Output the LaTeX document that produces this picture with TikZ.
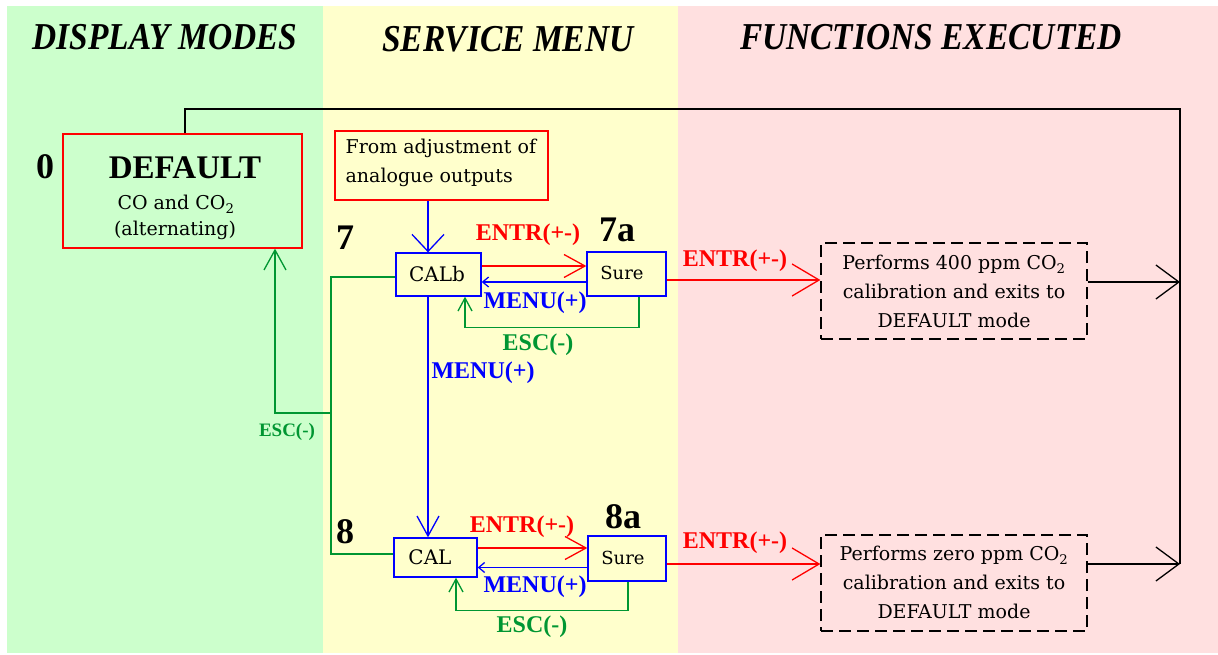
\documentclass[tikz,border=0pt]{standalone}
\usepackage{fontspec}
\setmainfont{Liberation Serif}
\newfontfamily\dvs{DejaVu Serif}
\usetikzlibrary{arrows.meta,calc}
\definecolor{bggreen}{RGB}{204,255,204}
\definecolor{bgyellow}{RGB}{255,255,204}
\definecolor{bgpink}{RGB}{255,224,224}
\definecolor{lred}{RGB}{255,0,0}
\definecolor{lblue}{RGB}{0,0,255}
\definecolor{lgreen}{RGB}{0,150,50}
\begin{document}
\begin{tikzpicture}[x=1pt,y=-1pt,line width=1.3pt,
  box/.style={draw,inner sep=0pt,fill=none},
  txt/.style={font=\dvs\fontsize{19}{29}\selectfont,inner sep=0pt},
  lbl/.style={font=\fontsize{24}{26}\selectfont\bfseries,inner sep=0pt},
  slbl/.style={font=\fontsize{19}{20}\selectfont\bfseries,inner sep=0pt},
  num/.style={font=\fontsize{36}{38}\selectfont\bfseries,inner sep=0pt},
  head/.style={font=\fontsize{38}{42}\selectfont\bfseries\itshape,inner sep=0pt,xscale=0.88},
  tipA/.style={-{Straight Barb[length=20pt,width=22pt]}},
  tipB/.style={-{Straight Barb[length=17pt,width=32pt]}},
  tipC/.style={-{Straight Barb[length=21pt,width=23pt]}},
  tipD/.style={-{Straight Barb[length=6pt,width=10pt]}},
  tipE/.style={-{Straight Barb[length=13pt,width=14pt]}},
  tipF/.style={-{Straight Barb[length=27pt,width=32pt]}},
  tipG/.style={-{Straight Barb[length=23pt,width=34pt]}}]
\useasboundingbox (0,0) rectangle (1218,655);
\fill[white] (0,0) rectangle (1218,655);
\fill[bggreen] (7,6) rectangle (323,653);
\fill[bgyellow] (323,6) rectangle (678,653);
\fill[bgpink] (678,6) rectangle (1218,653);

% headers
\node[head] (h1) at (165,37) {DISPLAY MODES};
\node[head] (h2) at (508,39) {SERVICE MENU};
\node[head] (h3) at (931,37) {FUNCTIONS EXECUTED};

% boxes
\node[box,draw=lred,minimum width=239pt,minimum height=114pt] (default) at (182.5,191) {};
\node[font=\fontsize{33}{34}\selectfont\bfseries,inner sep=0pt] (deft) at (185,168) {DEFAULT};
\node[txt] (dl1) at (176,204) {CO and CO\textsubscript{2}};
\node[txt] (dl2) at (175,230) {(alternating)};
\node[num] (n0) at (45,167) {0};

\node[box,draw=lred,minimum width=213pt,minimum height=69pt] (from) at (441.5,165.5) {};
\node[txt,anchor=west] (fl1) at (345,148) {From adjustment of};
\node[txt,anchor=west] (fl2) at (345,177) {analogue outputs};

\node[box,draw=lblue,minimum width=85pt,minimum height=43pt] (calb) at (438.5,274.5) {};
\node[txt,font=\dvs\fontsize{20}{22}\selectfont] (calbt) at (437,274) {CALb};
\node[box,draw=lblue,minimum width=79pt,minimum height=44pt] (sure7) at (626.5,274) {};
\node[txt,font=\dvs\fontsize{18}{20}\selectfont] (sure7t) at (622,273) {Sure};

\node[box,draw=lblue,minimum width=83pt,minimum height=39pt] (cal) at (435.5,557.5) {};
\node[txt,font=\dvs\fontsize{20}{22}\selectfont] (calt) at (430,557) {CAL};
\node[box,draw=lblue,minimum width=78pt,minimum height=45pt] (sure8) at (627,558.5) {};
\node[txt,font=\dvs\fontsize{18}{20}\selectfont] (sure8t) at (623,558) {Sure};

\node[box,dashed,dash pattern=on 12pt off 6pt,minimum width=266pt,minimum height=96pt] (f1) at (954,291) {};
\node[txt,align=center] (f1t) at (954,291) {Performs 400 ppm CO\textsubscript{2}\\calibration and exits to\\DEFAULT mode};
\node[box,dashed,dash pattern=on 12pt off 6pt,minimum width=266pt,minimum height=96pt] (f2) at (954,583) {};
\node[txt,align=center] (f2t) at (954,582) {Performs zero ppm CO\textsubscript{2}\\calibration and exits to\\DEFAULT mode};

% numbers
\node[num] (n7) at (345,238) {7};
\node[num] (n7a) at (617,230) {7a};
\node[num] (n8) at (345,532) {8};
\node[num] (n8a) at (623,517) {8a};

% black return line
\coordinate (rt) at (1180,109);
\coordinate (rb) at (1180,564);
\coordinate (rm) at (1180,282);
\draw ([xshift=2.5pt]default.north) |- (rt) -- (rb);
\draw[tipG] (rm -| f1.east) -- (rm);
\draw[tipG] (rb -| f2.east) -- (rb);

% from adjustment
\draw[lblue,tipB] ([xshift=-13.5pt]from.south) -- ([xshift=-10.5pt]calb.north);

% calb <-> sure7
\coordinate (e7) at ([yshift=8.5pt]calb.east);
\coordinate (m7) at ([yshift=-8pt]sure7.west);
\draw[lred,tipC] (e7) -- (e7 -| sure7.west);
\draw[lblue,tipD] (m7) -- (m7 -| calb.east);
\draw[lgreen,tipE] ([xshift=12.5pt]sure7.south) -- ++(0,31) -| ([xshift=26.5pt]calb.south);

% sure7 -> f1
\coordinate (r7) at ([yshift=-6pt]sure7.east);
\draw[lred,tipF] (r7) -- (r7 -| f1.west);

% calb -> cal
\draw[lblue,tipA] ([xshift=-10.5pt]calb.south) -- ([xshift=-7.5pt]cal.north);

% cal <-> sure8
\coordinate (e8) at ([yshift=9.5pt]cal.east);
\coordinate (m8) at ([yshift=-9pt]sure8.west);
\draw[lred,tipC] (e8) -- (e8 -| sure8.west);
\draw[lblue,tipD] (m8) -- (m8 -| cal.east);
\draw[lgreen,tipE] ([xshift=1pt]sure8.south) -- ++(0,29) -| ([xshift=20.5pt]cal.south);

% sure8 -> f2
\coordinate (r8) at ([yshift=-5.5pt]sure8.east);
\draw[lred,tipF] (r8) -- (r8 -| f2.west);

% big ESC
\coordinate (gj) at (331,413);
\draw[lgreen] ([yshift=-2.5pt]calb.west) -| (gj) |- ([yshift=3.5pt]cal.west);
\draw[lgreen,tipA] (gj) -| ([xshift=92.5pt]default.south);

% labels
\node[lbl,text=lred] (l1) at (528,235) {ENTR(+-)};
\node[lbl,text=lred] (l2) at (522,527) {ENTR(+-)};
\node[lbl,text=lred] (l3) at (735,261) {ENTR(+-)};
\node[lbl,text=lred] (l4) at (735,543) {ENTR(+-)};
\node[lbl,text=lblue] (l5) at (535,303) {MENU(+)};
\node[lbl,text=lblue] (l6) at (535,587) {MENU(+)};
\node[lbl,text=lblue] (l7) at (483,373) {MENU(+)};
\node[lbl,text=lgreen] (l8) at (538,345) {ESC(-)};
\node[lbl,text=lgreen] (l9) at (532,627) {ESC(-)};
\node[slbl,text=lgreen] (l10) at (287,432) {ESC(-)};
\end{tikzpicture}
\end{document}
